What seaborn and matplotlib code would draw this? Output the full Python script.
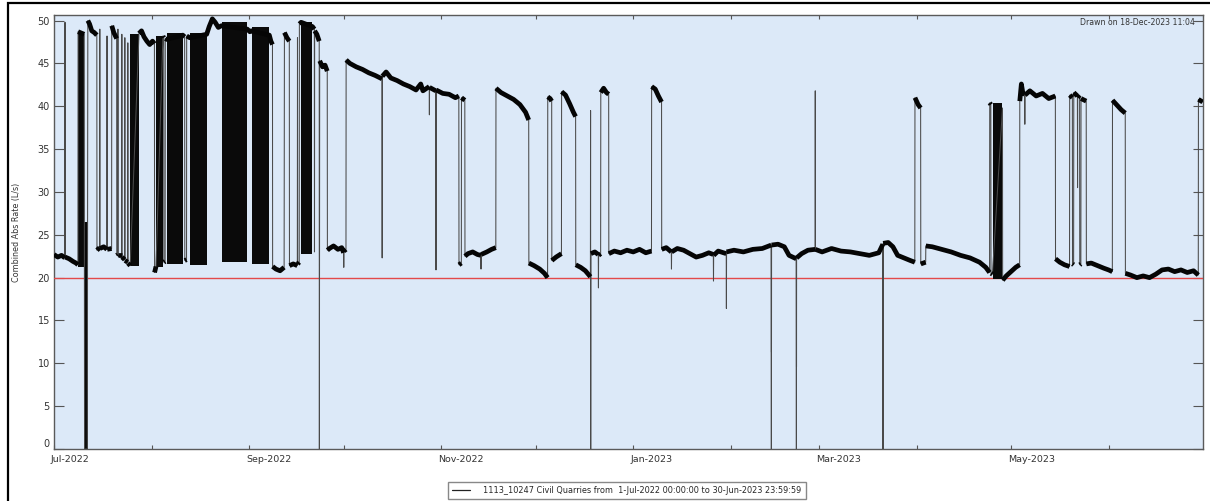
import numpy as np
import pandas as pd
import matplotlib
matplotlib.use("Agg")
import matplotlib.pyplot as plt
import matplotlib.dates as mdates
import matplotlib.transforms as mtrans
from matplotlib.collections import LineCollection
from matplotlib.lines import Line2D
from matplotlib.patches import Rectangle
import seaborn as sns

# data: days since 1-Jul-2022 00:00 and flow (L/s)
start = pd.Timestamp("2022-07-01")
end = pd.Timestamp("2023-06-30 23:59:59")

day = [0.0, 1.2, 2.4, 3.45, 3.5, 3.55, 4.8, 6.0, 7.0, 7.6, 7.65, 9.6, 9.65, 9.7, 10.6, 10.65, 10.75,
       11.3, 12.0, 12.8, 13.6, 13.65, 14.5, 14.55, 14.6, 15.8, 16.8, 16.85, 16.9, 18.3, 18.35, 19.0, 19.9, 19.95,
       20.25, 20.3, 20.35, 21.5, 21.55, 21.6, 22.45, 22.5, 22.55, 23.4, 23.45, 23.5, 24.2,
       27.0, 27.8, 28.6, 29.5, 30.4, 31.3, 31.9, 31.95, 32.4,
       34.6, 34.85, 34.9, 35.3, 35.35, 35.8, 40.9, 41.5, 41.55, 42.1, 42.15, 43.1,
       48.5, 49.3, 50.3, 51.2, 52.2, 53.2,
       61.4, 62.2, 62.7, 68.4, 68.9, 69.4, 69.45,
       70.5, 71.8, 73.1, 73.2, 74.0, 74.75, 74.8, 76.0, 77.3, 77.35, 77.4, 77.9, 77.95, 78.5,
       82.1, 82.7, 82.75, 82.8, 83.5, 84.25, 84.3, 84.4, 85.3, 86.1, 86.8, 86.85,
       87.5, 88.8, 90.2, 91.4, 92.0, 92.05, 92.1, 92.75, 92.8,
       94.0, 96.0, 98.0, 100.0, 102.0, 104.2, 104.25, 104.3, 105.5, 107.0, 109.0, 111.0, 113.0, 115.0, 116.5,
       117.2, 119.2, 119.25, 119.3, 121.3, 121.35, 121.4, 123.5, 125.5, 127.5, 128.6, 128.65, 129.4, 129.45,
       130.5, 130.55,
       131.5, 133.0, 134.5, 135.6, 135.65, 135.7, 137.5, 139.0, 140.35, 140.4,
       142.0, 144.0, 146.0, 148.0, 149.8, 150.8, 150.85,
       152.5, 154.3, 155.8, 156.8, 156.85, 157.6, 158.1, 158.15,
       159.5, 161.2, 161.25, 162.5, 163.8, 165.0, 165.7, 165.75,
       167.3, 168.8, 170.4, 170.45, 170.5, 170.55,
       171.8, 172.9, 172.95, 173.0, 173.65, 173.7, 174.6, 175.5, 176.2, 176.25,
       178.0, 180.0, 182.0, 184.0, 186.0, 188.0, 189.8, 189.85, 191.0, 192.0, 193.0, 193.05,
       194.5, 196.1, 196.15, 196.2, 198.0, 200.0, 202.0, 204.0, 206.0, 208.0, 209.45, 209.5, 209.55, 211.0,
       213.55, 213.6, 213.65, 216.0, 219.0, 222.0, 225.0, 227.85, 227.88, 227.9, 227.92, 227.95,
       230.0, 232.0, 233.5, 235.8, 235.83, 235.85, 235.87, 235.9, 237.5, 239.5, 241.8, 241.83, 241.86,
       244.0, 247.0, 250.0, 253.0, 256.0, 259.0, 262.0, 263.3, 263.35, 263.4, 265.0, 266.5, 268.0, 270.0,
       272.0, 273.45, 273.5, 274.5, 275.3, 275.35, 276.9, 276.95,
       279.0, 282.0, 285.0, 288.0, 291.0, 294.0, 296.0, 297.2, 297.25, 297.6, 297.65, 298.1, 301.3, 301.35,
       302.5, 304.0, 305.5, 306.75, 306.8, 307.3, 307.8, 308.35, 308.4, 308.45, 310.0, 312.0, 314.0, 316.0,
       318.1, 318.15,
       319.5, 321.0, 322.6, 322.65, 323.5, 323.55, 323.9, 323.95, 325.1, 325.15, 325.2, 325.8, 325.85, 326.2,
       326.25, 327.9, 327.95,
       329.5, 331.5, 333.5, 335.0, 336.2, 336.25, 337.5, 339.0, 340.3, 340.35,
       342.0, 344.0, 346.0, 348.0, 350.0, 352.0, 354.0, 356.0, 358.0, 360.0, 362.0, 363.5, 363.55, 364.9]

flow = [22.7, 22.4, 22.6, 22.3, 49.8, 22.4, 22.2, 21.9, 21.7, 21.5, 48.7, 48.4, 21.4, 0.0, 0.0, 21.8, 50.0,
        49.6, 48.8, 48.6, 48.3, 23.2, 23.5, 49.0, 23.4, 23.6, 23.3, 48.2, 23.3, 23.4, 49.4, 48.6, 47.9, 22.6,
        22.7, 49.0, 22.6, 22.6, 48.4, 22.4, 22.1, 48.0, 22.0, 21.8, 47.4, 21.7, 21.4,
        48.5, 48.8, 48.1, 47.6, 47.2, 47.6, 47.3, 20.6, 21.3,
        48.2, 48.0, 21.8, 21.9, 47.9, 47.8, 48.3, 48.1, 22.0, 22.1, 48.2, 48.0,
        48.4, 49.3, 50.2, 49.8, 49.2, 49.4,
        49.0, 48.7, 48.8, 48.3, 47.6, 47.2, 21.3,
        21.0, 20.8, 21.2, 48.6, 48.0, 47.6, 21.4, 21.6, 21.4, 48.0, 21.6, 21.8, 49.6, 49.8,
        49.3, 49.0, 23.0, 48.8, 48.4, 47.6, 0.0, 45.3, 44.6, 44.8, 44.1, 23.2,
        23.4, 23.7, 23.3, 23.5, 22.9, 21.2, 23.1, 23.3, 45.4,
        45.0, 44.6, 44.3, 43.9, 43.6, 43.2, 22.3, 43.5, 44.0, 43.3, 43.0, 42.6, 42.3, 41.9, 42.6,
        41.8, 42.3, 39.0, 42.2, 41.8, 20.9, 41.9, 41.5, 41.4, 41.0, 41.2, 21.5, 21.7, 41.0,
        40.7, 22.5,
        22.8, 23.0, 22.7, 22.6, 21.0, 22.7, 23.0, 23.3, 23.5, 42.1,
        41.6, 41.2, 40.8, 40.2, 39.3, 38.4, 21.7,
        21.4, 21.0, 20.5, 20.0, 41.1, 40.9, 40.6, 22.0,
        22.4, 22.8, 41.7, 41.3, 40.3, 39.3, 38.8, 21.5,
        21.2, 20.8, 20.1, 39.5, 0.0, 22.8,
        23.0, 22.7, 18.8, 22.6, 22.8, 41.6, 42.1, 41.6, 41.4, 22.8,
        23.1, 22.9, 23.2, 23.0, 23.3, 22.9, 23.1, 42.3, 42.0, 41.2, 40.5, 23.3,
        23.5, 23.0, 21.0, 23.0, 23.4, 23.2, 22.8, 22.4, 22.6, 22.9, 22.7, 19.6, 22.6, 23.1,
        22.8, 16.4, 23.0, 23.2, 23.0, 23.3, 23.4, 23.8, 0.0, 23.7, 11.3, 23.8,
        23.9, 23.6, 22.6, 22.2, 0.0, 22.0, 9.6, 22.3, 22.8, 23.2, 23.3, 41.8, 23.3,
        23.0, 23.4, 23.1, 23.0, 22.8, 22.6, 22.9, 23.9, 0.0, 24.0, 24.1, 23.6, 22.6, 22.3,
        22.0, 21.8, 41.0, 40.2, 39.8, 21.6, 21.8, 23.7,
        23.6, 23.3, 23.0, 22.6, 22.3, 21.8, 21.2, 20.6, 40.4, 40.2, 20.5, 20.4, 39.8, 19.7,
        20.2, 20.7, 21.2, 21.5, 40.6, 42.6, 41.5, 41.4, 37.9, 41.3, 41.8, 41.2, 41.5, 40.9,
        41.2, 22.2,
        21.8, 21.5, 21.3, 41.3, 41.0, 21.6, 21.5, 41.6, 41.2, 30.5, 41.0, 41.3, 21.5, 21.6,
        40.9, 40.6, 21.6,
        21.7, 21.4, 21.1, 20.9, 20.7, 40.7, 40.2, 39.6, 39.2, 20.5,
        20.3, 20.0, 20.2, 20.0, 20.4, 20.9, 21.0, 20.7, 20.9, 20.6, 20.8, 20.3, 40.8, 40.5]

# spells where the pump cycled so fast the trace prints as a solid block
band_start = [7.6, 9.65, 24.3, 32.5, 35.8, 43.1, 53.25, 62.8, 78.6, 298.2]
band_end = [9.6, 10.8, 27.0, 34.6, 40.9, 48.5, 61.4, 68.4, 82.1, 301.3]
band_low = [21.2, 0.0, 21.4, 21.2, 21.6, 21.5, 21.8, 21.6, 22.8, 19.8]
band_high = [48.7, 26.5, 48.4, 48.2, 48.6, 48.6, 49.8, 49.2, 49.8, 40.4]

limit = 20.0
series_name = "1113_10247 Civil Quarries from  1-Jul-2022 00:00:00 to 30-Jun-2023 23:59:59"
drawn_note = "Drawn on 18-Dec-2023 11:04"

assert len(day) == len(flow)

t = start + pd.to_timedelta(day, unit="D")
df = pd.DataFrame({"time": t, "flow": flow})

sns.set_style("ticks")
plt.rcParams["font.family"] = ["DejaVu Sans"]

fig = plt.figure(figsize=(12.1, 5.01), dpi=100)
ax = fig.add_axes([54 / 1210, 52 / 501, 1149 / 1210, 434 / 501])
ax.set_facecolor("#dce9f8")

# solid blocks
for s, e, lo, hi in zip(band_start, band_end, band_low, band_high):
    ax.fill_between([start + pd.Timedelta(days=s), start + pd.Timedelta(days=e)], lo, hi,
                    color="#0a0a0a", lw=0, zorder=4)

ax.axhline(limit, color="#e3494a", lw=1.0, zorder=3)

# thin trace for all the jumps
sns.lineplot(data=df, x="time", y="flow", estimator=None, sort=False,
             color="#4a4a4a", lw=0.75, ax=ax, zorder=5)

# the steady stretches are noisy in the original, so draw them heavier
x = mdates.date2num(t)
y = np.array(flow)
runs = []
cur = []
for i in range(len(x) - 1):
    flat = day[i + 1] - day[i] > 0.08 and abs(y[i + 1] - y[i]) < 4 and min(y[i], y[i + 1]) > 5
    if flat:
        if not cur:
            cur = [(x[i], y[i])]
        cur.append((x[i + 1], y[i + 1]))
    elif cur:
        runs.append(cur)
        cur = []
if cur:
    runs.append(cur)
ax.add_collection(LineCollection(runs, colors="#050505", linewidths=3.4,
                                 capstyle="butt", joinstyle="round", zorder=6))

ax.set_xlim(start, end)
ax.set_ylim(0, 50.65)

# axes styling
for sp in ax.spines.values():
    sp.set_color("#5a5a5a")
    sp.set_linewidth(1.0)

ax.xaxis.set_major_locator(mdates.MonthLocator(bymonth=[1, 3, 5, 7, 9, 11]))
ax.xaxis.set_major_formatter(mdates.DateFormatter("%b-%Y"))
ax.xaxis.set_minor_locator(mdates.MonthLocator())
ax.set_yticks(range(0, 51, 5))
ax.tick_params(axis="x", which="both", direction="in", length=3, width=0.8, top=True,
               colors="#555555", labelcolor="#333333", labelsize=6.8, pad=4)
ax.tick_params(axis="y", direction="in", length=7, width=0.8, right=True,
               colors="#555555", labelcolor="#333333", labelsize=7, pad=3)

ax.set_xlabel("")
ax.set_ylabel("Combined Abs Rate (L/s)", fontsize=5.8, color="#333333")
ax.yaxis.set_label_coords(-0.0287, 0.5)

ax.text(0.9925, 0.982, drawn_note, transform=ax.transAxes, ha="right", va="center",
        fontsize=5.6, color="#333333", zorder=7)

fig.legend(handles=[Line2D([], [], color="#222222", lw=0.9)], labels=[series_name],
           loc="center", bbox_to_anchor=(0.518, 0.021), frameon=True, fancybox=False,
           edgecolor="#888888", fontsize=5.85, handlelength=2.3, handletextpad=1.6,
           borderpad=0.5, framealpha=1)

# outer frame of the screenshot (left and top edges only are visible)
fig.add_artist(Rectangle((8 / 1210, -0.1), 1.2, 1.094, transform=fig.transFigure,
                         fill=False, ec="black", lw=1.6))

fig.canvas.draw()
off = mtrans.ScaledTranslation(-0.03, 0, fig.dpi_scale_trans)
for lab in ax.get_xticklabels():
    lab.set_horizontalalignment("left")
    lab.set_transform(lab.get_transform() + off)
ax.get_yticklabels()[0].set_verticalalignment("bottom")

fig.savefig("out.png", dpi=100)
